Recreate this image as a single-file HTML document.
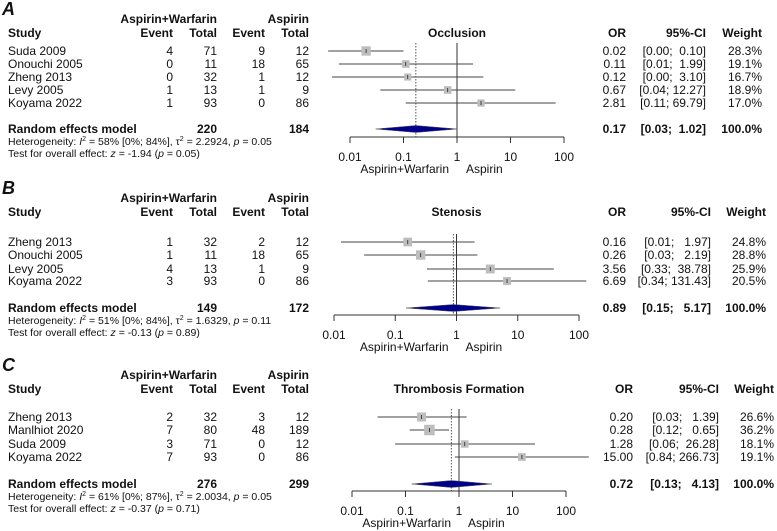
<!DOCTYPE html>
<html><head><meta charset="utf-8">
<style>
html,body{margin:0;padding:0;background:#fff;}
svg{display:block;font-family:"Liberation Sans",Arial,sans-serif;}
svg text{white-space:pre;}
</style></head>
<body>
<svg id="chart" width="777" height="531" viewBox="0 0 777 531" xmlns="http://www.w3.org/2000/svg" xml:space="preserve"></svg>
<script>
// ---- Panel A: Occlusion ----
const studiesA = ["Suda 2009","Onouchi 2005","Zheng 2013","Levy 2005","Koyama 2022"];
const evtAWA = [4,0,0,1,1];
const totAWA = [71,11,32,13,93];
const evtAA = [9,18,1,1,0];
const totAA = [12,65,12,9,86];
const orA = [0.02,0.11,0.12,0.67,2.81];
const loA = [0.0039,0.0062,0.0046,0.037,0.11];
const hiA = [0.10,1.99,3.10,12.27,69.79];
const orTxtA = ["0.02","0.11","0.12","0.67","2.81"];
const ciTxtA = ["[0.00;  0.10]","[0.01;  1.99]","[0.00;  3.10]","[0.04; 12.27]","[0.11; 69.79]"];
const wA = [28.3,19.1,16.7,18.9,17.0];
const reA = [0.17,0.03,1.02];
// ---- Panel B: Stenosis ----
const studiesB = ["Zheng 2013","Onouchi 2005","Levy 2005","Koyama 2022"];
const evtAWB = [1,1,4,3];
const totAWB = [32,11,13,93];
const evtAB = [2,18,1,0];
const totAB = [12,65,9,86];
const orB = [0.16,0.26,3.56,6.69];
const loB = [0.013,0.031,0.33,0.34];
const hiB = [1.97,2.19,38.78,131.43];
const orTxtB = ["0.16","0.26","3.56","6.69"];
const ciTxtB = ["[0.01;   1.97]","[0.03;   2.19]","[0.33;  38.78]","[0.34; 131.43]"];
const wB = [24.8,28.8,25.9,20.5];
const reB = [0.89,0.15,5.17];
// ---- Panel C: Thrombosis Formation ----
const studiesC = ["Zheng 2013","Manlhiot 2020","Suda 2009","Koyama 2022"];
const evtAWC = [2,7,3,7];
const totAWC = [32,80,71,93];
const evtAC = [3,48,0,0];
const totAC = [12,189,12,86];
const orC = [0.20,0.28,1.28,15.00];
const loC = [0.03,0.12,0.064,0.84];
const hiC = [1.39,0.65,26.28,266.73];
const orTxtC = ["0.20","0.28","1.28","15.00"];
const ciTxtC = ["[0.03;   1.39]","[0.12;   0.65]","[0.06;  26.28]","[0.84; 266.73]"];
const wC = [26.6,36.2,18.1,19.1];
const reC = [0.72,0.13,4.13];
const tickVals = [0.01,0.1,1,10,100];
const tickLbls = ["0.01","0.1","1","10","100"];

const NS="http://www.w3.org/2000/svg";
const svg=document.getElementById('chart');
function el(tag,attrs,parent){const e=document.createElementNS(NS,tag);for(const k in attrs)e.setAttribute(k,attrs[k]);(parent||svg).appendChild(e);return e;}
function txt(s,x,y,opts,parent){const t=el('text',{x:x,y:y,'font-size':opts.size||12,'text-anchor':opts.anchor||'start','font-weight':opts.bold?'bold':'normal',fill:'#111'},parent);if(opts.italic)t.setAttribute('font-style','italic');t.textContent=s;return t;}

const panels=[
 {key:'a',letter:'A',title:'Occlusion',studies:studiesA,e1:evtAWA,t1:totAWA,e2:evtAA,t2:totAA,or:orA,lo:loA,hi:hiA,ort:orTxtA,cit:ciTxtA,w:wA,re:reA,
  tot1:"220",tot2:"184",het:["58%","[0%; 84%]","2.2924","0.05"],test:["-1.94","0.05"],reOr:"0.17",reCi:"[0.03;  1.02]",
  y0:0,rows:[51,64,77,90,103],reY:129,axY:137,x0:350,x1:564,orX:626,ciX:706,wX:762},
 {key:'b',letter:'B',title:'Stenosis',studies:studiesB,e1:evtAWB,t1:totAWB,e2:evtAB,t2:totAB,or:orB,lo:loB,hi:hiB,ort:orTxtB,cit:ciTxtB,w:wB,re:reB,
  tot1:"149",tot2:"172",het:["51%","[0%; 84%]","1.6329","0.11"],test:["-0.13","0.89"],reOr:"0.89",reCi:"[0.15;   5.17]",
  y0:179,rows:[242,255,269,281],reY:308,axY:315,x0:334,x1:579,orX:626,ciX:711,wX:766},
 {key:'c',letter:'C',title:'Thrombosis Formation',studies:studiesC,e1:evtAWC,t1:totAWC,e2:evtAC,t2:totAC,or:orC,lo:loC,hi:hiC,ort:orTxtC,cit:ciTxtC,w:wC,re:reC,
  tot1:"276",tot2:"299",het:["61%","[0%; 87%]","2.0034","0.05"],test:["-0.37","0.71"],reOr:"0.72",reCi:"[0.13;   4.13]",
  y0:356,rows:[417,430,444,457],reY:484,axY:491,x0:352,x1:566,orX:633,ciX:719,wX:774}
];

panels.forEach(p=>{
  const g=el('g',{});
  
  
  const sx=v=>p.x0+(Math.log10(v)+2)/4*(p.x1-p.x0);
  const h1=p.y0+23, h2=p.y0+37;
  const lt=txt(p.letter,2,p.y0+15,{size:18,bold:true,italic:true},g);
  
  txt('Aspirin+Warfarin',217,h1,{bold:true,anchor:'end'},g);
  txt('Aspirin',309,h1,{bold:true,anchor:'end'},g);
  txt('Study',8,h2,{bold:true},g);
  txt('Event',173,h2,{bold:true,anchor:'end'},g);
  txt('Total',217,h2,{bold:true,anchor:'end'},g);
  txt('Event',265,h2,{bold:true,anchor:'end'},g);
  txt('Total',309,h2,{bold:true,anchor:'end'},g);
  const tt=txt(p.title,sx(1),h2,{bold:true,anchor:'middle'},g);
  
  txt('OR',p.orX,h2,{bold:true,anchor:'end'},g);
  txt('95%-CI',p.ciX,h2,{bold:true,anchor:'end'},g);
  txt('Weight',p.wX,h2,{bold:true,anchor:'end'},g);
  const l1=el('line',{x1:sx(1),x2:sx(1),y1:p.rows[0]-8,y2:p.axY,stroke:'#333','stroke-width':1},g);
  
  const l2=el('line',{x1:sx(p.re[0]),x2:sx(p.re[0]),y1:p.rows[0]-8,y2:p.axY,stroke:'#555','stroke-width':1,'stroke-dasharray':'1.5,1.5'},g);
  
  p.studies.forEach((s,i)=>{
    const y=p.rows[i]+4;
    const r=el('g',{},g);
    
    txt(s,8,y,{},r);
    txt(String(p.e1[i]),173,y,{anchor:'end'},r);
    txt(String(p.t1[i]),217,y,{anchor:'end'},r);
    txt(String(p.e2[i]),265,y,{anchor:'end'},r);
    txt(String(p.t2[i]),309,y,{anchor:'end'},r);
    txt(p.ort[i],p.orX,y,{anchor:'end'},r);
    txt(p.cit[i],p.ciX,y,{anchor:'end'},r);
    txt(p.w[i].toFixed(1)+'%',p.wX,y,{anchor:'end'},r);
    const ci=el('line',{x1:sx(p.lo[i]),x2:sx(p.hi[i]),y1:p.rows[i],y2:p.rows[i],stroke:'#444','stroke-width':1},r);
    
    const sz=Math.sqrt(p.w[i])*1.75, cx=sx(p.or[i]);
    const b=el('rect',{x:cx-sz/2,y:p.rows[i]-sz/2,width:sz,height:sz,fill:'#bdbdbd'},r);
    
    el('line',{x1:cx,x2:cx,y1:p.rows[i]-2,y2:p.rows[i]+2,stroke:'#222','stroke-width':0.8},r);
  });
  const ry=p.reY+4;
  txt('Random effects model',8,ry,{bold:true},g);
  txt(p.tot1,217,ry,{bold:true,anchor:'end'},g);
  txt(p.tot2,309,ry,{bold:true,anchor:'end'},g);
  txt(p.reOr,p.orX,ry,{bold:true,anchor:'end'},g);
  txt(p.reCi,p.ciX,ry,{bold:true,anchor:'end'},g);
  txt('100.0%',p.wX,ry,{bold:true,anchor:'end'},g);
  const d=el('polygon',{points:`${sx(p.re[1])},${p.reY} ${sx(p.re[0])},${p.reY-3.5} ${sx(p.re[2])},${p.reY} ${sx(p.re[0])},${p.reY+3.5}`,fill:'#00008b',stroke:'#555','stroke-width':0.5},g);
  
  const het=el('text',{x:8,y:p.reY+16,'font-size':10.5,fill:'#111'},g);
  
  het.innerHTML=`Heterogeneity: <tspan font-style="italic">I</tspan><tspan font-size="7" dy="-4">2</tspan><tspan dy="4"> = ${p.het[0]} ${p.het[1]}, τ</tspan><tspan font-size="7" dy="-4">2</tspan><tspan dy="4"> = ${p.het[2]}, </tspan><tspan font-style="italic">p</tspan> = ${p.het[3]}`;
  const te=el('text',{x:8,y:p.reY+28,'font-size':10.5,fill:'#111'},g);
  
  te.innerHTML=`Test for overall effect: <tspan font-style="italic">z</tspan> = ${p.test[0]} (<tspan font-style="italic">p</tspan> = ${p.test[1]})`;
  const ax=el('g',{},g);
  
  el('line',{x1:sx(tickVals[0]),x2:sx(tickVals[tickVals.length-1]),y1:p.axY,y2:p.axY,stroke:'#333'},ax);
  tickVals.forEach((v,i)=>{
    el('line',{x1:sx(v),x2:sx(v),y1:p.axY,y2:p.axY+6,stroke:'#333'},ax);
    txt(tickLbls[i],sx(v),p.axY+24,{anchor:'middle'},ax);
  });
  const s1=txt('Aspirin+Warfarin',sx(1)-8,p.axY+36,{anchor:'end'},ax);
  
  const s2=txt('Aspirin',sx(1)+9,p.axY+36,{},ax);
  
});
</script>
</body></html>
